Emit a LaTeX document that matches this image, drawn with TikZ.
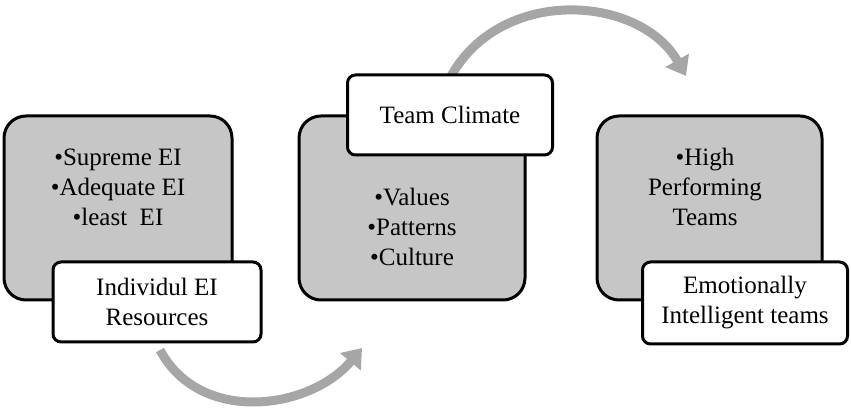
\documentclass[tikz,border=0pt]{standalone}
\usepackage{fontspec}
\setmainfont{Liberation Serif}
\usetikzlibrary{arrows.meta}
\begin{document}
\begin{tikzpicture}[x=1pt,y=-1pt,
  gbox/.style={draw=black,line width=3pt,fill=gray!45,rounded corners=22pt},
  wbox/.style={draw=black,line width=3pt,fill=white,rounded corners=8pt},
  txt/.style={font=\fontsize{25}{30}\selectfont,align=center},
  garrow/.style={draw=gray!70,line width=9pt,-{Triangle[length=18pt,width=26pt]}}]
\useasboundingbox (0,0) rectangle (851,411);
\draw[garrow] (160,350) .. controls (200,425) and (310,410) .. (362,348);
\draw[garrow] (450,78) .. controls (500,-15) and (640,-5) .. (686,76);
\draw[gbox] (4,116) rectangle (232,300);
\draw[gbox] (299,116) rectangle (525,300);
\draw[gbox] (597,116) rectangle (822,300);
\node[wbox,minimum width=208pt,minimum height=80pt,txt] (w1) at (157,302) {Individul EI\\Resources};
\node[wbox,minimum width=205pt,minimum height=80pt,txt] (w2) at (450,115) {Team Climate};
\node[wbox,minimum width=205pt,minimum height=82pt,txt] (w3) at (745,303) {Emotionally\\Intelligent teams};
\node[txt] (t1) at (118,187) {•Supreme EI\\•Adequate EI\\•least\ \ EI};
\node[txt] (t2) at (412,227) {•Values\\•Patterns\\•Culture};
\node[txt] (t3) at (705,187) {•High\\Performing\\Teams};
\end{tikzpicture}
\end{document}
